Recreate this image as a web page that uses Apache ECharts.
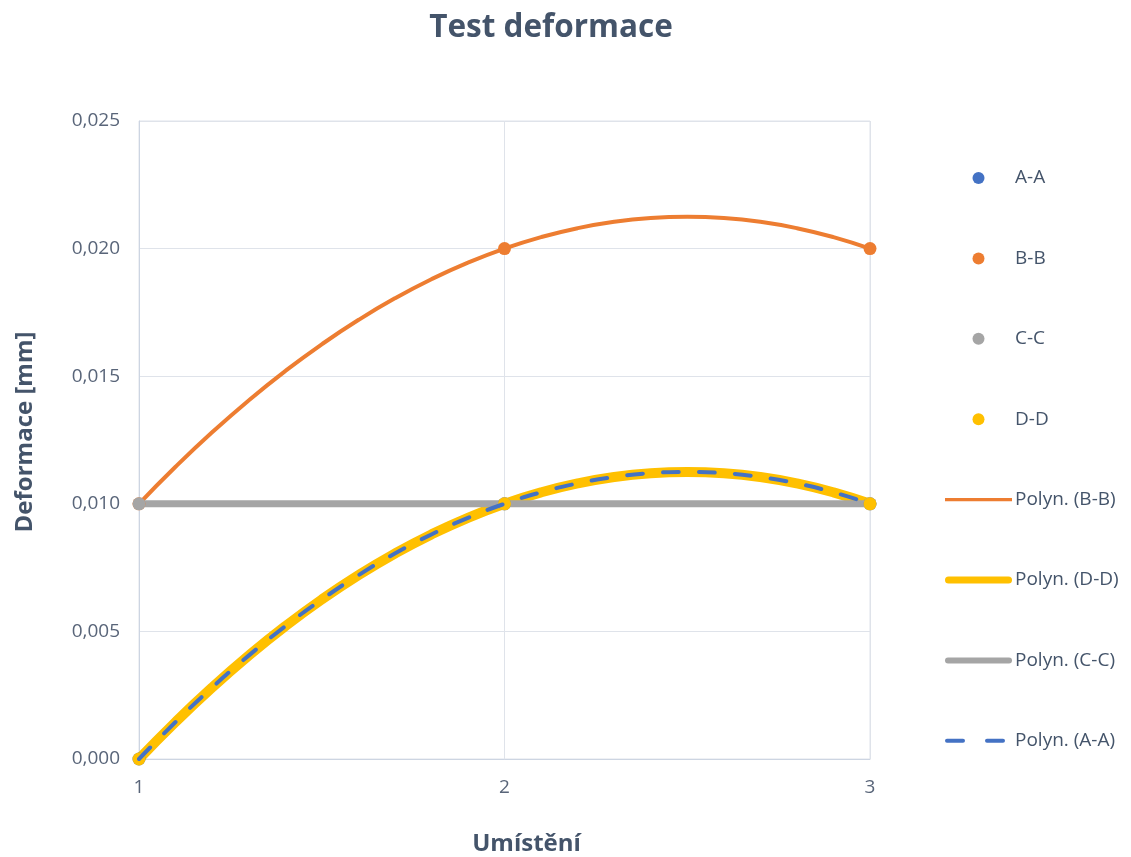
<!DOCTYPE html>
<html>
<head>
<meta charset="utf-8">
<script src="https://cdn.jsdelivr.net/npm/echarts@6/dist/echarts.min.js"></script>
<style>
html,body{margin:0;padding:0;background:#fff;}
#chart{width:1131px;height:857px;}
</style>
</head>
<body>
<div id="chart"></div>
<script>
// Measured points (x = position, y = deformation in mm)
const positions = [1, 2, 3];
const seriesAA = [0.000, 0.010, 0.010];
const seriesBB = [0.010, 0.020, 0.020];
const seriesCC = [0.010, 0.010, 0.010];
const seriesDD = [0.000, 0.010, 0.010];

const trendX  = [1.0, 1.1, 1.2, 1.3, 1.4, 1.5, 1.6, 1.7, 1.8, 1.9, 2.0, 2.1, 2.2, 2.3, 2.4, 2.5, 2.6, 2.7, 2.8, 2.9, 3.0];
const trendBB = [0.01000, 0.01145, 0.01280, 0.01405, 0.01520, 0.01625, 0.01720, 0.01805, 0.01880, 0.01945, 0.02000, 0.02045, 0.02080, 0.02105, 0.02120, 0.02125, 0.02120, 0.02105, 0.02080, 0.02045, 0.02000];
const trendDD = [0.00000, 0.00145, 0.00280, 0.00405, 0.00520, 0.00625, 0.00720, 0.00805, 0.00880, 0.00945, 0.01000, 0.01045, 0.01080, 0.01105, 0.01120, 0.01125, 0.01120, 0.01105, 0.01080, 0.01045, 0.01000];
const trendCC = [0.010, 0.010, 0.010, 0.010, 0.010, 0.010, 0.010, 0.010, 0.010, 0.010, 0.010, 0.010, 0.010, 0.010, 0.010, 0.010, 0.010, 0.010, 0.010, 0.010, 0.010];
const trendAA = [0.00000, 0.00145, 0.00280, 0.00405, 0.00520, 0.00625, 0.00720, 0.00805, 0.00880, 0.00945, 0.01000, 0.01045, 0.01080, 0.01105, 0.01120, 0.01125, 0.01120, 0.01105, 0.01080, 0.01045, 0.01000];

const legendNames = ['A-A', 'B-B', 'C-C', 'D-D', 'Polyn. (B-B)', 'Polyn. (D-D)', 'Polyn. (C-C)', 'Polyn. (A-A)'];

const zip = (xs, ys) => xs.map((x, i) => [x, ys[i]]);

const BLUE = '#4472c4', ORANGE = '#ed7d31', GRAY = '#a5a5a5', YELLOW = '#ffc000';
const TXT = '#44546a';
const FONT = 'Open Sans';

// legend icon shapes (line samples)
const ICONS = {
  'Polyn. (B-B)': 'path://M0,0h67v3.2h-67z',
  'Polyn. (D-D)': 'path://M3.5,0h60a3.5,3.5 0 0 1 0,7h-60a3.5,3.5 0 0 1 0,-7z',
  'Polyn. (C-C)': 'path://M3,0h61a3,3 0 0 1 0,6h-61a3,3 0 0 1 0,-6z',
  'Polyn. (A-A)': 'path://M2,0h16a2,2 0 0 1 0,4h-16a2,2 0 0 1 0,-4z M42,0h16a2,2 0 0 1 0,4h-16a2,2 0 0 1 0,-4z M66.99,1.99h0.01v0.01h-0.01z'
};

const chart = echarts.init(document.getElementById('chart'), null, {renderer: 'canvas'});
chart.setOption({
  animation: false,
  backgroundColor: '#ffffff',
  title: {
    text: 'Test deformace',
    left: 546, top: 7, textAlign: 'center',
    textStyle: {fontFamily: FONT, fontSize: 31.5, fontWeight: 'bold', color: TXT}
  },
  grid: {left: 139, right: 261, top: 121, bottom: 98, show: true, borderColor: '#dfe3ea', borderWidth: 1,
         outerBoundsMode: 'none', containLabel: false},
  legend: {
    orient: 'vertical', left: 940, top: 163.5,
    itemWidth: 67, itemHeight: 12, itemGap: 61.4,
    symbolKeepAspect: true,
    data: legendNames.map(n => ICONS[n] ? {name: n, icon: ICONS[n]} : {name: n, icon: 'circle'}),
    textStyle: {fontFamily: FONT, fontSize: 19, color: TXT, padding: [0, 0, 0, -2]}
  },
  xAxis: {
    type: 'value', min: 1, max: 3, interval: 1,
    name: 'Umístění', nameLocation: 'middle', nameGap: 73,
    nameTextStyle: {fontFamily: FONT, fontSize: 24, fontWeight: 'bold', color: TXT, padding: [0, 0, 0, 44]},
    axisLine: {show: true, lineStyle: {color: '#cdd5e2', width: 1}},
    axisTick: {show: false},
    axisLabel: {fontFamily: FONT, fontSize: 19, color: '#596579', margin: 19},
    splitLine: {show: true, lineStyle: {color: '#dfe3ea', width: 1}}
  },
  yAxis: {
    type: 'value', min: 0, max: 0.025, interval: 0.005,
    name: 'Deformace [mm]', nameLocation: 'middle', nameGap: 102,
    nameTextStyle: {fontFamily: FONT, fontSize: 24, fontWeight: 'bold', color: TXT, padding: [0, 0, 0, 16]},
    axisLine: {show: true, lineStyle: {color: '#cdd5e2', width: 1}},
    axisTick: {show: false},
    axisLabel: {
      fontFamily: FONT, fontSize: 19, color: '#596579', margin: 19,
      formatter: v => v.toFixed(3).replace('.', ',')
    },
    splitLine: {show: true, lineStyle: {color: '#dfe3ea', width: 1}}
  },
  series: [
    {name: 'Polyn. (B-B)', type: 'line', data: zip(trendX, trendBB), smooth: true, symbol: 'none',
     lineStyle: {color: ORANGE, width: 4}, itemStyle: {color: ORANGE}, z: 2},
    {name: 'Polyn. (D-D)', type: 'line', data: zip(trendX, trendDD), smooth: true, symbol: 'none',
     lineStyle: {color: YELLOW, width: 10, cap: 'round'}, itemStyle: {color: YELLOW}, z: 2},
    {name: 'Polyn. (C-C)', type: 'line', data: zip(trendX, trendCC), smooth: true, symbol: 'none',
     lineStyle: {color: GRAY, width: 7}, itemStyle: {color: GRAY}, z: 2},
    {name: 'A-A', type: 'scatter', data: zip(positions, seriesAA), symbolSize: 13,
     itemStyle: {color: BLUE, opacity: 1}, z: 3},
    {name: 'B-B', type: 'scatter', data: zip(positions, seriesBB), symbolSize: 13,
     itemStyle: {color: ORANGE, opacity: 1}, z: 3},
    {name: 'C-C', type: 'scatter', data: zip(positions, seriesCC), symbolSize: 13,
     itemStyle: {color: GRAY, opacity: 1}, z: 3},
    {name: 'D-D', type: 'scatter', data: zip(positions, seriesDD), symbolSize: 13,
     itemStyle: {color: YELLOW, opacity: 1}, z: 3},
    {name: 'Polyn. (A-A)', type: 'line', data: zip(trendX, trendAA), smooth: true, symbol: 'none',
     lineStyle: {color: BLUE, width: 4, type: [16, 20], cap: 'round'}, itemStyle: {color: BLUE}, z: 4}
  ]
});
</script>
</body>
</html>
